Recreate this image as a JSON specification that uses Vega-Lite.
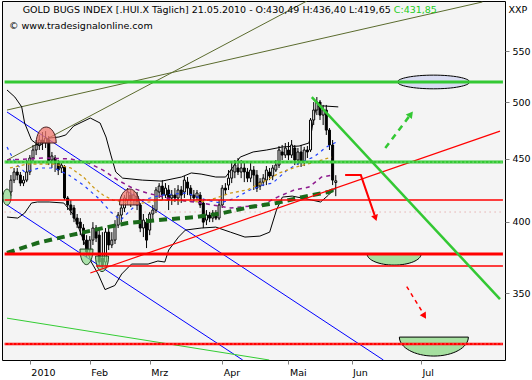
{
"$schema": "https://vega.github.io/schema/vega-lite/v6.json",
"width": 503, "height": 359,
"autosize": {"type": "none"},
"padding": {"left": 2, "top": 1, "right": 27, "bottom": 20},
"background": "white",
"config": {
  "view": {"stroke": "black", "strokeWidth": 1, "fill": "#f4f4f4"},
  "font": "DejaVu Sans",
  "axis": {"labelFont": "DejaVu Sans", "labelFontSize": 9.5, "labelColor": "#000", "tickColor": "#808080", "tickSize": 4, "domain": false, "grid": false, "labelOverlap": false, "labelBound": false, "labelFlush": false}
},
"datasets": {
  "candles": [
{"i":-6,"o":422.9,"h":436.5,"l":419.7,"c":432.4},
{"i":-5,"o":432.4,"h":442.3,"l":430.0,"c":439.0},
{"i":-4,"o":439.0,"h":442.3,"l":432.4,"c":436.5},
{"i":-3,"o":436.5,"h":439.0,"l":427.6,"c":430.0},
{"i":-2,"o":430.0,"h":435.7,"l":427.6,"c":432.4},
{"i":-1,"o":432.4,"h":448.9,"l":430.8,"c":439.0},
{"i":0,"o":439.0,"h":453.1,"l":436.5,"c":450.6},
{"i":1,"o":450.6,"h":461.7,"l":446.4,"c":457.4},
{"i":2,"o":457.4,"h":466.0,"l":453.1,"c":461.7},
{"i":3,"o":461.7,"h":470.4,"l":457.4,"c":466.0},
{"i":4,"o":466.0,"h":473.0,"l":457.4,"c":463.4},
{"i":5,"o":463.4,"h":473.8,"l":459.1,"c":467.7},
{"i":6,"o":466.0,"h":469.5,"l":444.7,"c":447.2},
{"i":7,"o":448.9,"h":455.7,"l":442.3,"c":452.3},
{"i":8,"o":450.6,"h":453.1,"l":439.0,"c":446.4},
{"i":9,"o":446.4,"h":448.9,"l":436.5,"c":440.6},
{"i":10,"o":442.3,"h":447.2,"l":438.2,"c":444.7},
{"i":11,"o":443.1,"h":444.7,"l":416.6,"c":418.2},
{"i":12,"o":418.2,"h":419.7,"l":408.9,"c":412.8},
{"i":13,"o":412.8,"h":416.6,"l":405.1,"c":408.9},
{"i":14,"o":410.5,"h":412.8,"l":399.8,"c":402.8},
{"i":15,"o":402.8,"h":405.9,"l":395.4,"c":398.3},
{"i":16,"o":399.8,"h":402.8,"l":390.2,"c":395.4},
{"i":17,"o":395.4,"h":398.3,"l":383.1,"c":386.6},
{"i":18,"o":386.6,"h":390.2,"l":374.6,"c":378.1},
{"i":19,"o":379.5,"h":389.5,"l":376.0,"c":386.6},
{"i":20,"o":386.6,"h":399.8,"l":383.1,"c":395.4},
{"i":21,"o":395.4,"h":397.6,"l":385.2,"c":388.1},
{"i":22,"o":390.2,"h":393.9,"l":368.4,"c":371.1},
{"i":23,"o":373.9,"h":392.4,"l":367.0,"c":369.0},
{"i":24,"o":371.1,"h":395.4,"l":368.4,"c":392.4},
{"i":25,"o":392.4,"h":395.4,"l":379.5,"c":383.1},
{"i":26,"o":383.1,"h":392.4,"l":380.9,"c":386.6},
{"i":27,"o":386.6,"h":401.3,"l":383.8,"c":397.6},
{"i":28,"o":397.6,"h":407.4,"l":395.4,"c":405.1},
{"i":29,"o":405.1,"h":413.5,"l":399.8,"c":410.5},
{"i":30,"o":410.5,"h":420.5,"l":407.4,"c":418.2},
{"i":31,"o":416.6,"h":426.0,"l":412.8,"c":422.9},
{"i":32,"o":420.5,"h":424.5,"l":411.2,"c":416.6},
{"i":33,"o":416.6,"h":423.7,"l":412.8,"c":420.5},
{"i":34,"o":419.7,"h":422.9,"l":408.9,"c":412.8},
{"i":35,"o":412.8,"h":414.3,"l":392.4,"c":395.4},
{"i":36,"o":395.4,"h":405.9,"l":388.8,"c":401.3},
{"i":37,"o":399.8,"h":402.8,"l":380.9,"c":386.6},
{"i":38,"o":393.9,"h":407.4,"l":390.2,"c":405.9},
{"i":39,"o":405.9,"h":412.8,"l":401.3,"c":408.9},
{"i":40,"o":408.9,"h":426.8,"l":406.6,"c":424.5},
{"i":41,"o":422.9,"h":430.0,"l":418.2,"c":427.6},
{"i":42,"o":427.6,"h":432.4,"l":416.6,"c":420.5},
{"i":43,"o":420.5,"h":430.0,"l":418.2,"c":426.0},
{"i":44,"o":424.5,"h":428.4,"l":408.9,"c":416.6},
{"i":45,"o":418.2,"h":424.5,"l":412.8,"c":420.5},
{"i":46,"o":420.5,"h":426.0,"l":415.1,"c":418.2},
{"i":47,"o":418.2,"h":428.4,"l":412.8,"c":424.5},
{"i":48,"o":424.5,"h":427.6,"l":414.3,"c":420.5},
{"i":49,"o":422.9,"h":435.7,"l":418.2,"c":432.4},
{"i":50,"o":430.8,"h":434.9,"l":420.5,"c":426.0},
{"i":51,"o":426.0,"h":428.4,"l":416.6,"c":420.5},
{"i":52,"o":420.5,"h":424.5,"l":415.1,"c":418.2},
{"i":53,"o":418.9,"h":424.5,"l":416.6,"c":422.1},
{"i":54,"o":420.5,"h":422.9,"l":410.5,"c":412.8},
{"i":55,"o":414.3,"h":416.6,"l":395.4,"c":399.8},
{"i":56,"o":401.3,"h":408.9,"l":397.6,"c":405.1},
{"i":57,"o":405.1,"h":407.4,"l":399.8,"c":402.8},
{"i":58,"o":402.8,"h":408.9,"l":399.8,"c":406.6},
{"i":59,"o":405.1,"h":408.9,"l":401.3,"c":402.8},
{"i":60,"o":402.8,"h":416.6,"l":401.3,"c":412.8},
{"i":61,"o":412.8,"h":428.4,"l":410.5,"c":426.0},
{"i":62,"o":426.0,"h":430.0,"l":420.5,"c":424.5},
{"i":63,"o":428.4,"h":440.6,"l":424.5,"c":434.0},
{"i":64,"o":434.0,"h":446.4,"l":430.0,"c":440.6},
{"i":65,"o":439.0,"h":448.9,"l":434.0,"c":444.7},
{"i":66,"o":442.3,"h":450.6,"l":436.5,"c":439.0},
{"i":67,"o":439.0,"h":448.9,"l":434.0,"c":442.3},
{"i":68,"o":442.3,"h":447.2,"l":430.8,"c":439.0},
{"i":69,"o":439.0,"h":442.3,"l":430.8,"c":434.0},
{"i":70,"o":434.0,"h":446.4,"l":430.8,"c":440.6},
{"i":71,"o":440.6,"h":443.9,"l":424.5,"c":436.5},
{"i":72,"o":436.5,"h":440.6,"l":422.9,"c":426.0},
{"i":73,"o":427.6,"h":434.0,"l":424.5,"c":430.8},
{"i":74,"o":430.8,"h":437.3,"l":427.6,"c":434.0},
{"i":75,"o":432.4,"h":443.9,"l":428.4,"c":440.6},
{"i":76,"o":439.0,"h":442.3,"l":432.4,"c":435.7},
{"i":77,"o":435.7,"h":444.7,"l":432.4,"c":442.3},
{"i":78,"o":440.6,"h":448.9,"l":439.0,"c":444.7},
{"i":79,"o":444.7,"h":460.8,"l":442.3,"c":457.4},
{"i":80,"o":455.7,"h":461.7,"l":448.9,"c":453.1},
{"i":81,"o":453.1,"h":463.4,"l":450.6,"c":459.1},
{"i":82,"o":457.4,"h":464.2,"l":448.9,"c":453.1},
{"i":83,"o":453.1,"h":466.0,"l":450.6,"c":461.7},
{"i":84,"o":459.1,"h":461.7,"l":444.7,"c":448.9},
{"i":85,"o":448.9,"h":459.1,"l":444.7,"c":455.7},
{"i":86,"o":455.7,"h":461.7,"l":443.1,"c":447.2},
{"i":87,"o":447.2,"h":460.0,"l":443.9,"c":457.4},
{"i":88,"o":457.4,"h":460.8,"l":450.6,"c":455.7},
{"i":89,"o":457.4,"h":485.5,"l":455.7,"c":483.7},
{"i":90,"o":483.7,"h":500.2,"l":479.2,"c":492.8},
{"i":91,"o":492.8,"h":504.9,"l":488.2,"c":500.2},
{"i":92,"o":500.2,"h":502.1,"l":483.7,"c":488.2},
{"i":93,"o":488.2,"h":497.5,"l":479.2,"c":492.8},
{"i":94,"o":492.8,"h":497.5,"l":470.4,"c":474.7},
{"i":95,"o":474.7,"h":476.5,"l":457.4,"c":461.7},
{"i":96,"o":461.7,"h":466.0,"l":428.4,"c":432.4},
{"i":97,"o":430.49,"h":436.4,"l":419.65,"c":431.85}
  ],
  "curves": [
{"s":"upper","i":-7.24,"p":511.6},{"s":"upper","i":-4.75,"p":504.9},{"s":"upper","i":-2.58,"p":495.7},{"s":"upper","i":-1.65,"p":481.0},{"s":"upper","i":0.53,"p":466.0},{"s":"upper","i":3.05,"p":460.8},{"s":"upper","i":6.12,"p":467.7},{"s":"upper","i":9.23,"p":468.6},{"s":"upper","i":11.4,"p":470.4},{"s":"upper","i":13.89,"p":478.3},{"s":"upper","i":19.17,"p":485.5},{"s":"upper","i":22.28,"p":481.0},{"s":"upper","i":24.15,"p":468.6},{"s":"upper","i":25.7,"p":453.1},{"s":"upper","i":27.25,"p":439.0},{"s":"upper","i":29.43,"p":434.0},{"s":"upper","i":35.65,"p":432.4},{"s":"upper","i":41.85,"p":431.6},{"s":"upper","i":48.08,"p":434.9},{"s":"upper","i":51.19,"p":438.2},{"s":"upper","i":54.3,"p":437.3},{"s":"upper","i":58.96,"p":434.9},{"s":"upper","i":62.08,"p":434.9},{"s":"upper","i":64.2,"p":442.3},{"s":"upper","i":66.7,"p":451.4},{"s":"upper","i":70.8,"p":455.7},{"s":"upper","i":75.1,"p":457.4},{"s":"upper","i":80.07,"p":460.0},{"s":"upper","i":85.36,"p":460.8},{"s":"upper","i":88.5,"p":463.4},{"s":"upper","i":89.4,"p":474.7},{"s":"upper","i":90.0,"p":486.4},{"s":"upper","i":90.95,"p":495.7},{"s":"upper","i":93.13,"p":496.6},{"s":"upper","i":97.79,"p":495.7},
{"s":"lower","i":-7.24,"p":403.6},{"s":"lower","i":-3.82,"p":402.8},{"s":"lower","i":-1.65,"p":406.6},{"s":"lower","i":0.53,"p":414.3},{"s":"lower","i":2.39,"p":415.1},{"s":"lower","i":6.12,"p":415.1},{"s":"lower","i":10.78,"p":414.3},{"s":"lower","i":13.89,"p":405.1},{"s":"lower","i":17.0,"p":386.6},{"s":"lower","i":19.48,"p":371.1},{"s":"lower","i":21.66,"p":362.9},{"s":"lower","i":23.84,"p":352.5},{"s":"lower","i":26.94,"p":355.2},{"s":"lower","i":29.12,"p":362.9},{"s":"lower","i":32.23,"p":369.7},{"s":"lower","i":37.5,"p":369.7},{"s":"lower","i":40.6,"p":371.8},{"s":"lower","i":42.79,"p":371.1},{"s":"lower","i":44.03,"p":379.5},{"s":"lower","i":47.14,"p":388.8},{"s":"lower","i":49.32,"p":393.9},{"s":"lower","i":54.3,"p":395.4},{"s":"lower","i":58.96,"p":396.1},{"s":"lower","i":63.6,"p":392.4},{"s":"lower","i":68.2,"p":388.8},{"s":"lower","i":72.93,"p":389.5},{"s":"lower","i":76.04,"p":392.4},{"s":"lower","i":78.2,"p":408.9},{"s":"lower","i":80.07,"p":418.9},{"s":"lower","i":83.19,"p":419.7},{"s":"lower","i":89.4,"p":416.6},{"s":"lower","i":92.2,"p":415.1},{"s":"lower","i":94.68,"p":420.5},{"s":"lower","i":97.17,"p":426.8},
{"s":"mag","i":-7.24,"p":377.4},{"s":"mag","i":2.39,"p":384.5},{"s":"mag","i":12.96,"p":390.2},{"s":"mag","i":23.21,"p":395.4},{"s":"mag","i":30.98,"p":399.1},{"s":"mag","i":40.3,"p":401.3},{"s":"mag","i":52.74,"p":403.6},{"s":"mag","i":61.15,"p":406.6},{"s":"mag","i":69.8,"p":411.2},{"s":"mag","i":78.2,"p":414.3},{"s":"mag","i":86.3,"p":418.9},{"s":"mag","i":94.68,"p":422.9},{"s":"mag","i":97.17,"p":425.3},
{"s":"orange","i":-6.31,"p":442.3},{"s":"orange","i":-0.71,"p":445.6},{"s":"orange","i":7.68,"p":445.6},{"s":"orange","i":12.96,"p":442.3},{"s":"orange","i":17.0,"p":434.9},{"s":"orange","i":20.1,"p":426.8},{"s":"orange","i":23.21,"p":420.5},{"s":"orange","i":26.32,"p":416.6},{"s":"orange","i":31.6,"p":414.3},{"s":"orange","i":35.65,"p":414.3},{"s":"orange","i":41.85,"p":416.6},{"s":"orange","i":48.08,"p":415.9},{"s":"orange","i":54.3,"p":415.1},{"s":"orange","i":58.96,"p":418.2},{"s":"orange","i":63.6,"p":422.1},{"s":"orange","i":68.89,"p":424.5},{"s":"orange","i":75.1,"p":432.4},{"s":"orange","i":79.14,"p":438.2},{"s":"orange","i":84.4,"p":443.1},{"s":"orange","i":89.4,"p":446.4},{"s":"orange","i":95.6,"p":451.4},
{"s":"purple","i":-7.24,"p":448.9},{"s":"purple","i":4.57,"p":450.6},{"s":"purple","i":12.96,"p":449.8},{"s":"purple","i":18.55,"p":446.4},{"s":"purple","i":23.21,"p":440.6},{"s":"purple","i":27.87,"p":432.4},{"s":"purple","i":32.54,"p":426.0},{"s":"purple","i":37.2,"p":422.1},{"s":"purple","i":44.96,"p":417.4},{"s":"purple","i":54.3,"p":414.3},{"s":"purple","i":63.6,"p":410.5},{"s":"purple","i":73.55,"p":412.8},{"s":"purple","i":78.52,"p":418.9},{"s":"purple","i":83.81,"p":424.5},{"s":"purple","i":88.47,"p":426.8},{"s":"purple","i":92.51,"p":434.9},{"s":"purple","i":96.24,"p":436.5},
{"s":"bluema","i":-7.24,"p":460.0},{"s":"bluema","i":-4.5,"p":446.0},{"s":"bluema","i":-1.65,"p":439.0},{"s":"bluema","i":3.05,"p":442.3},{"s":"bluema","i":7.68,"p":442.3},{"s":"bluema","i":12.34,"p":436.5},{"s":"bluema","i":17.0,"p":428.4},{"s":"bluema","i":21.66,"p":418.2},{"s":"bluema","i":25.7,"p":407.4},{"s":"bluema","i":28.8,"p":401.3},{"s":"bluema","i":31.92,"p":408.9},{"s":"bluema","i":35.65,"p":416.6},{"s":"bluema","i":41.85,"p":420.5},{"s":"bluema","i":49.63,"p":422.1},{"s":"bluema","i":55.85,"p":416.6},{"s":"bluema","i":60.5,"p":414.3},{"s":"bluema","i":65.16,"p":418.2},{"s":"bluema","i":69.8,"p":424.5},{"s":"bluema","i":73.86,"p":428.4},{"s":"bluema","i":76.97,"p":430.0},{"s":"bluema","i":81.6,"p":440.6},{"s":"bluema","i":85.36,"p":446.4},{"s":"bluema","i":90.0,"p":451.4},{"s":"bluema","i":94.06,"p":460.0},{"s":"bluema","i":97.17,"p":464.2}
  ],
  "diag": [
{"s":"oliveA","i":-7.24,"p":492.8},{"s":"oliveA","i":143.5,"p":602.9},
{"s":"oliveB","i":-7.24,"p":448.9},{"s":"oliveB","i":87.85,"p":604.0},
{"s":"blueA","i":-7.24,"p":491.0},{"s":"blueA","i":112.1,"p":309.1},
{"s":"blueB","i":-7.24,"p":412.8},{"s":"blueB","i":67.5,"p":309.1},
{"s":"greenThin","i":-7.24,"p":334.2},{"s":"greenThin","i":75.9,"p":309.1},
{"s":"redRise","i":19.17,"p":363.6},{"s":"redRise","i":149.07,"p":473.8},
{"s":"greenFall","i":89.4,"p":504.9},{"s":"greenFall","i":149.07,"p":346.3}
  ],
  "hlines": [
{"s":"pinkdot","p":407.4,"i":-8,"i2":150},
{"s":"red1","p":416.6,"i":-8,"i2":150},
{"s":"red2","p":376.7,"i":-8,"i2":150},
{"s":"red3","p":368.4,"i":21,"i2":150},
{"s":"red4","p":318.5,"i":-8,"i2":150},
{"s":"green1","p":519.3,"i":-8,"i2":150},
{"s":"green2","p":447.2,"i":-8,"i2":150}
  ]
},
"encoding": {
  "x": {"field": "i", "type": "quantitative",
        "scale": {"domain": [-7.24, 149.07], "nice": false, "zero": false},
        "axis": {"values": [0, 19, 38, 61, 82, 102, 124], "title": null,
                 "labelExpr": "datum.value == 0 ? '2010' : datum.value == 19 ? 'Feb' : datum.value == 38 ? 'Mrz' : datum.value == 61 ? 'Apr' : datum.value == 82 ? 'Mai' : datum.value == 102 ? 'Jun' : 'Jul'",
                 "labelAlign": "left", "labelOffset": 1, "labelPadding": 3}},
  "y": {"field": "p", "type": "quantitative",
        "scale": {"type": "log", "domain": [309.1, 604.0], "nice": false, "zero": false},
        "axis": {"orient": "right", "values": [350, 400, 450, 500, 550], "format": "d", "labelPadding": 3, "labelBaseline": "middle",
                 "title": "XXP", "titleAngle": 0, "titleAlign": "left", "titleBaseline": "middle", "titleX": 3, "titleY": 8,
                 "titleFont": "DejaVu Sans", "titleFontSize": 9.5, "titleFontWeight": "normal", "titleColor": "#000"}}
},
"resolve": {"scale": {"y": "shared", "x": "shared"}, "axis": {"y": "shared", "x": "shared"}},
"layer": [
  {"data": {"name": "hlines"}, "transform": [{"filter": "datum.s == 'pinkdot'"}],
   "mark": {"type": "rule", "clip": true, "color": "#e08c8c", "strokeWidth": 1, "strokeDash": [1, 4]},
   "encoding": {"x2": {"field": "i2"}}},
  {"data": {"name": "diag"}, "transform": [{"filter": "datum.s == 'oliveA'"}],
   "mark": {"type": "line", "clip": true, "color": "#5b6b2e", "strokeWidth": 1}},
  {"data": {"name": "diag"}, "transform": [{"filter": "datum.s == 'oliveB'"}],
   "mark": {"type": "line", "clip": true, "color": "#5b6b2e", "strokeWidth": 1}},
  {"data": {"name": "diag"}, "transform": [{"filter": "datum.s == 'blueA'"}],
   "mark": {"type": "line", "clip": true, "color": "#0000ff", "strokeWidth": 1}},
  {"data": {"name": "diag"}, "transform": [{"filter": "datum.s == 'blueB'"}],
   "mark": {"type": "line", "clip": true, "color": "#0000ff", "strokeWidth": 1}},
  {"data": {"name": "diag"}, "transform": [{"filter": "datum.s == 'greenThin'"}],
   "mark": {"type": "line", "clip": true, "color": "#33cc33", "strokeWidth": 1}},
  {"data": {"name": "curves"}, "transform": [{"filter": "datum.s == 'upper'"}],
   "mark": {"type": "line", "clip": true, "color": "#000000", "strokeWidth": 1}},
  {"data": {"name": "curves"}, "transform": [{"filter": "datum.s == 'lower'"}],
   "mark": {"type": "line", "clip": true, "color": "#000000", "strokeWidth": 1}},
  {"data": {"name": "candles"},
   "mark": {"type": "rule", "clip": true, "color": "black", "strokeWidth": 1},
   "encoding": {"y": {"field": "l", "type": "quantitative", "scale": {"type": "log", "domain": [309.1, 604.0], "nice": false, "zero": false},
                      "axis": {"orient": "right", "values": [350, 400, 450, 500, 550], "format": "d", "labelPadding": 3, "labelBaseline": "middle",
                 "title": "XXP", "titleAngle": 0, "titleAlign": "left", "titleBaseline": "middle", "titleX": 3, "titleY": 8,
                 "titleFont": "DejaVu Sans", "titleFontSize": 9.5, "titleFontWeight": "normal", "titleColor": "#000"}},
                "y2": {"field": "h"}}},
  {"data": {"name": "candles"},
   "mark": {"type": "bar", "clip": true, "width": 2, "stroke": "black", "strokeWidth": 1},
   "encoding": {"y": {"field": "o", "type": "quantitative", "scale": {"type": "log", "domain": [309.1, 604.0], "nice": false, "zero": false},
                      "axis": {"orient": "right", "values": [350, 400, 450, 500, 550], "format": "d", "labelPadding": 3, "labelBaseline": "middle",
                 "title": "XXP", "titleAngle": 0, "titleAlign": "left", "titleBaseline": "middle", "titleX": 3, "titleY": 8,
                 "titleFont": "DejaVu Sans", "titleFontSize": 9.5, "titleFontWeight": "normal", "titleColor": "#000"}},
                "y2": {"field": "c"},
                "fill": {"condition": {"test": "datum.c >= datum.o", "value": "white"}, "value": "black"}}},
  {"data": {"name": "curves"}, "transform": [{"filter": "datum.s == 'bluema'"}],
   "mark": {"type": "line", "clip": true, "color": "#2040ff", "strokeWidth": 1.2, "strokeDash": [3, 4]}},
  {"data": {"name": "curves"}, "transform": [{"filter": "datum.s == 'orange'"}],
   "mark": {"type": "line", "clip": true, "color": "#cc9a1a", "strokeWidth": 1.3, "strokeDash": [3, 3]}},
  {"data": {"name": "curves"}, "transform": [{"filter": "datum.s == 'purple'"}],
   "mark": {"type": "line", "clip": true, "color": "#8e1a8e", "strokeWidth": 1.5, "strokeDash": [4, 4]}},
  {"data": {"name": "curves"}, "transform": [{"filter": "datum.s == 'mag'"}],
   "mark": {"type": "line", "clip": true, "color": "#1a6a1a", "strokeWidth": 4, "strokeDash": [8, 5]}},
  {"data": {"values": [{"i": 5.19, "p": 463.4}, {"i": 31.6, "p": 412.8}]},
   "mark": {"type": "point", "clip": true, "shape": "M-1,0C-1,-0.883,-0.552,-1.6,0,-1.6C0.552,-1.6,1,-0.883,1,0Z", "size": 400, "filled": true, "fill": "#f07a70", "fillOpacity": 0.75, "stroke": "#4a2020", "strokeWidth": 1, "opacity": 1}},
  {"data": {"values": [{"i": 17.96, "p": 380.2}, {"i": 22.9, "p": 375.3}]},
   "mark": {"type": "point", "clip": true, "shape": "M-1,0C-1,1.325,-0.552,2.4,0,2.4C0.552,2.4,1,1.325,1,0Z", "size": 169, "filled": true, "fill": "#8ad88a", "fillOpacity": 0.7, "stroke": "#204020", "strokeWidth": 1, "opacity": 1}},
  {"data": {"values": [{"i": -7.24, "p": 418.9}]},
   "mark": {"type": "point", "clip": true, "shape": "M-1,0C-1,-1.105,-0.552,-2,0,-2C0.552,-2,1,-1.105,1,0C1,1.105,0.552,2,0,2C-0.552,2,-1,1.105,-1,0Z", "size": 64, "filled": true, "fill": "#8ad88a", "fillOpacity": 0.7, "stroke": "#204020", "strokeWidth": 1, "opacity": 1}},
  {"data": {"values": [{"i": 128.0, "p": 519.3}]},
   "mark": {"type": "point", "clip": true, "shape": "M-1,0C-1,-0.105,-0.552,-0.19,0,-0.19C0.552,-0.19,1,-0.105,1,0C1,0.105,0.552,0.19,0,0.19C-0.552,0.19,-1,0.105,-1,0Z", "size": 5184, "filled": true, "fill": "#d9dcf2", "stroke": "black", "strokeWidth": 1, "opacity": 1}},
  {"data": {"values": [{"i": 115.5, "p": 376.7}]},
   "mark": {"type": "point", "clip": true, "shape": "M-1,0C-1,0.226,-0.552,0.41,0,0.41C0.552,0.41,1,0.226,1,0Z", "size": 2916, "filled": true, "fill": "#a6e0a0", "stroke": "black", "strokeWidth": 1, "opacity": 1}},
  {"data": {"values": [{"i": 128.1, "p": 322.6}]},
   "mark": {"type": "point", "clip": true, "shape": "M-1,0C-1,0.304,-0.552,0.55,0,0.55C0.552,0.55,1,0.304,1,0Z", "size": 4761, "filled": true, "fill": "#a6e0a0", "stroke": "black", "strokeWidth": 1, "opacity": 1}},
  {"data": {"name": "diag"}, "transform": [{"filter": "datum.s == 'redRise'"}],
   "mark": {"type": "line", "clip": true, "color": "#ff0000", "strokeWidth": 1.2}},
  {"data": {"name": "hlines"}, "transform": [{"filter": "datum.s == 'red1' || datum.s == 'red3'"}],
   "mark": {"type": "rule", "clip": true, "color": "#ff0000", "strokeWidth": 1.5},
   "encoding": {"x2": {"field": "i2"}}},
  {"data": {"name": "hlines"}, "transform": [{"filter": "datum.s == 'red2'"}],
   "mark": {"type": "rule", "clip": true, "color": "#ff0000", "strokeWidth": 3},
   "encoding": {"x2": {"field": "i2"}}},
  {"data": {"name": "hlines"}, "transform": [{"filter": "datum.s == 'red4'"}],
   "mark": {"type": "rule", "clip": true, "color": "#ff0000", "strokeWidth": 2.5},
   "encoding": {"x2": {"field": "i2"}}},
  {"data": {"name": "hlines"}, "transform": [{"filter": "datum.s == 'red4'"}],
   "mark": {"type": "rule", "clip": true, "color": "#ffaaaa", "strokeWidth": 1, "strokeDash": [1, 3]},
   "encoding": {"x2": {"field": "i2"}}},
  {"data": {"name": "hlines"}, "transform": [{"filter": "datum.s == 'green1' || datum.s == 'green2'"}],
   "mark": {"type": "rule", "clip": true, "color": "#33c833", "strokeWidth": 3},
   "encoding": {"x2": {"field": "i2"}}},
  {"data": {"name": "hlines"}, "transform": [{"filter": "datum.s == 'green2'"}],
   "mark": {"type": "rule", "clip": true, "color": "#b8f0b8", "strokeWidth": 1, "strokeDash": [1, 3]},
   "encoding": {"x2": {"field": "i2"}}},
  {"data": {"name": "diag"}, "transform": [{"filter": "datum.s == 'greenFall'"}],
   "mark": {"type": "line", "clip": true, "color": "#33c833", "strokeWidth": 2.5}},
  {"data": {"values": [{"i": 99.97, "p": 436.5}, {"i": 104.94, "p": 436.5}, {"i": 109.3, "p": 405.0}]},
   "mark": {"type": "line", "clip": true, "color": "#ff0000", "strokeWidth": 2}},
  {"data": {"values": [{"i": 109.6, "p": 402.8}]},
   "mark": {"type": "point", "clip": true, "shape": "triangle-up", "angle": 161, "size": 50, "filled": true, "color": "#ff0000", "opacity": 1}},
  {"data": {"values": [{"i": 119.5, "p": 354.5}, {"i": 124.8, "p": 337.0}]},
   "mark": {"type": "line", "clip": true, "color": "#ff0000", "strokeWidth": 1.5, "strokeDash": [4, 4]}},
  {"data": {"values": [{"i": 125.1, "p": 335.5}]},
   "mark": {"type": "point", "clip": true, "shape": "triangle-up", "angle": 148, "size": 50, "filled": true, "color": "#ff0000", "opacity": 1}},
  {"data": {"values": [{"i": 112.7, "p": 459.1}, {"i": 120.4, "p": 487.5}]},
   "mark": {"type": "line", "clip": true, "color": "#33c833", "strokeWidth": 2.5, "strokeDash": [6, 5]}},
  {"data": {"values": [{"i": 120.8, "p": 489.1}]},
   "mark": {"type": "point", "clip": true, "shape": "triangle-up", "angle": 37, "size": 60, "filled": true, "color": "#33c833", "opacity": 1}},
  {"data": {"values": [{"t": "GOLD BUGS INDEX [.HUI.X  Täglich] 21.05.2010 - O:430,49 H:436,40 L:419,65", "i": -2.27, "p": 594.0},
                       {"t": "© www.tradesignalonline.com", "i": -6.62, "p": 576.6}]},
   "mark": {"type": "text", "align": "left", "baseline": "middle", "font": "DejaVu Sans", "fontSize": 9.5, "color": "#000000"},
   "encoding": {"text": {"field": "t"}}},
  {"data": {"values": [{"t": "C:431,85", "i": 115.4, "p": 594.0}]},
   "mark": {"type": "text", "align": "left", "baseline": "middle", "font": "DejaVu Sans", "fontSize": 9.5, "color": "#22cc22"},
   "encoding": {"text": {"field": "t"}}}
]
}
